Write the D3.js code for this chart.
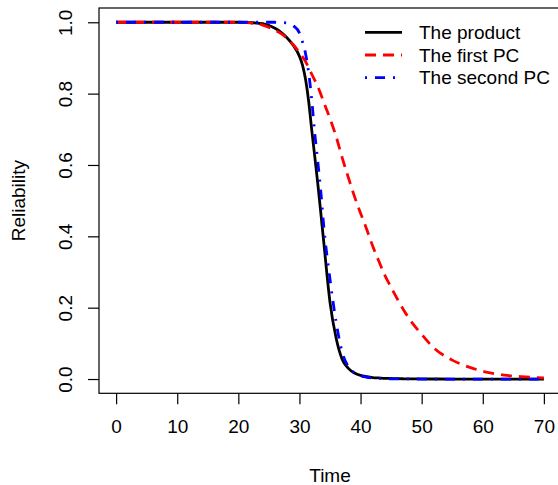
<!DOCTYPE html>
<html>
<head>
<meta charset="utf-8">
<script src="https://cdn.jsdelivr.net/npm/d3@7"></script>
<style>
  html, body { margin: 0; padding: 0; background: #fff; }
  svg { display: block; }
  text { font-family: "Liberation Sans", Arial, Helvetica, sans-serif; fill: #000; }
</style>
</head>
<body>
<svg id="chart" width="558" height="485"></svg>
<script>
// ---- data ----
const time = [0, 5, 10, 15, 20, 22, 24, 26, 27, 28, 29, 30, 30.5, 31, 31.5, 32, 32.5, 33, 33.5, 34, 35, 36, 37, 38, 39, 40, 41, 42, 43, 44, 45, 46, 47, 48, 50, 52, 55, 58, 61, 64, 67, 70];
const productR = [1, 1, 1, 1, 1, 0.999, 0.996, 0.983, 0.972, 0.956, 0.935, 0.905, 0.88, 0.84, 0.78, 0.70, 0.625, 0.548, 0.465, 0.38, 0.215, 0.115, 0.055, 0.03, 0.017, 0.01, 0.0065, 0.004, 0.003, 0.002, 0.0015, 0.001, 0.0007, 0.0005, 0.0002, 0.0001, 0, 0, 0, 0, 0, 0];
const firstPC = [1, 1, 1, 1, 1, 0.998, 0.992, 0.978, 0.968, 0.955, 0.937, 0.915, 0.903, 0.89, 0.873, 0.855, 0.838, 0.82, 0.798, 0.775, 0.73, 0.68, 0.62, 0.565, 0.512, 0.465, 0.42, 0.372, 0.33, 0.29, 0.257, 0.225, 0.195, 0.168, 0.125, 0.087, 0.053, 0.032, 0.018, 0.01, 0.006, 0.003];
const secondPC = [1, 1, 1, 1, 1, 1, 1, 1, 0.9995, 0.998, 0.99, 0.97, 0.945, 0.912, 0.86, 0.785, 0.69, 0.61, 0.525, 0.425, 0.28, 0.16, 0.075, 0.035, 0.017, 0.009, 0.005, 0.003, 0.002, 0.001, 0.0007, 0.0005, 0.0003, 0.0002, 0, 0, 0, 0, 0, 0, 0, 0];
const xTicks = [0, 10, 20, 30, 40, 50, 60, 70];
const yTicks = [0.0, 0.2, 0.4, 0.6, 0.8, 1.0];
const seriesNames = ["The product", "The first PC", "The second PC"];
const seriesColors = ["#000000", "#FF0000", "#0000FF"];
const seriesDash = [null, "11,7", "2,8,10,8"];
const seriesValues = [productR, firstPC, secondPC];

// ---- layout ----
const svg = d3.select("#chart");
const pLeft = 99, pRight = 561, pTop = 8, pBottom = 393.3;
const x = d3.scaleLinear().domain([-2.8, 72.8]).range([pLeft, pRight]);
const y = d3.scaleLinear().domain([-0.04, 1.04]).range([pBottom, pTop]);
const fontSize = 19;

svg.append("defs").append("clipPath").attr("id", "plotclip")
  .append("rect").attr("x", pLeft).attr("y", pTop).attr("width", pRight - pLeft).attr("height", pBottom - pTop);

// lines
const line = d3.line().curve(d3.curveMonotoneX);
const g = svg.append("g").attr("clip-path", "url(#plotclip)");
seriesValues.forEach((vals, i) => {
  g.append("path")
    .attr("d", line(time.map((t, j) => [x(t), y(vals[j])])))
    .attr("fill", "none")
    .attr("stroke", seriesColors[i])
    .attr("stroke-width", 2.8)
    .attr("stroke-dasharray", seriesDash[i])
    .attr("stroke-linejoin", "round");
});

// box
svg.append("rect")
  .attr("x", pLeft).attr("y", pTop)
  .attr("width", pRight - pLeft).attr("height", pBottom - pTop)
  .attr("fill", "none").attr("stroke", "#000").attr("stroke-width", 1.2);

// x axis
const xAxis = d3.axisBottom(x).tickValues(xTicks).tickSize(11).tickPadding(15)
  .tickFormat(d3.format("d"));
const gx = svg.append("g").attr("transform", `translate(0,${pBottom})`).call(xAxis);
gx.select(".domain").remove();
gx.selectAll(".tick line").attr("stroke", "#000").attr("stroke-width", 1.2);
gx.selectAll(".tick text").attr("font-size", fontSize)
  .attr("font-family", "Liberation Sans, Arial, sans-serif");

// y axis
const yAxis = d3.axisLeft(y).tickValues(yTicks).tickSize(11).tickPadding(0)
  .tickFormat(d3.format(".1f"));
const gy = svg.append("g").attr("transform", `translate(${pLeft},0)`).call(yAxis);
gy.select(".domain").remove();
gy.selectAll(".tick line").attr("stroke", "#000").attr("stroke-width", 1.2);
gy.selectAll(".tick text")
  .attr("font-size", fontSize)
  .attr("font-family", "Liberation Sans, Arial, sans-serif")
  .attr("text-anchor", "middle")
  .attr("x", 0).attr("dy", null)
  .attr("transform", "translate(-34,0) rotate(-90)")
  .attr("dominant-baseline", "central");

// axis titles
svg.append("text").attr("x", (pLeft + pRight) / 2).attr("y", 482)
  .attr("text-anchor", "middle").attr("font-size", fontSize).text("Time");
svg.append("text")
  .attr("transform", `translate(25,${(pTop + pBottom) / 2}) rotate(-90)`)
  .attr("text-anchor", "middle").attr("font-size", fontSize).text("Reliability");

// legend
const legRows = [32.3, 55, 77.7];
seriesNames.forEach((name, i) => {
  svg.append("line")
    .attr("x1", 365).attr("x2", 402)
    .attr("y1", legRows[i]).attr("y2", legRows[i])
    .attr("stroke", seriesColors[i]).attr("stroke-width", 2.8)
    .attr("stroke-dasharray", seriesDash[i]);
  svg.append("text").attr("x", 419).attr("y", legRows[i])
    .attr("dominant-baseline", "central")
    .attr("font-size", fontSize).text(name);
});
</script>
</body>
</html>
